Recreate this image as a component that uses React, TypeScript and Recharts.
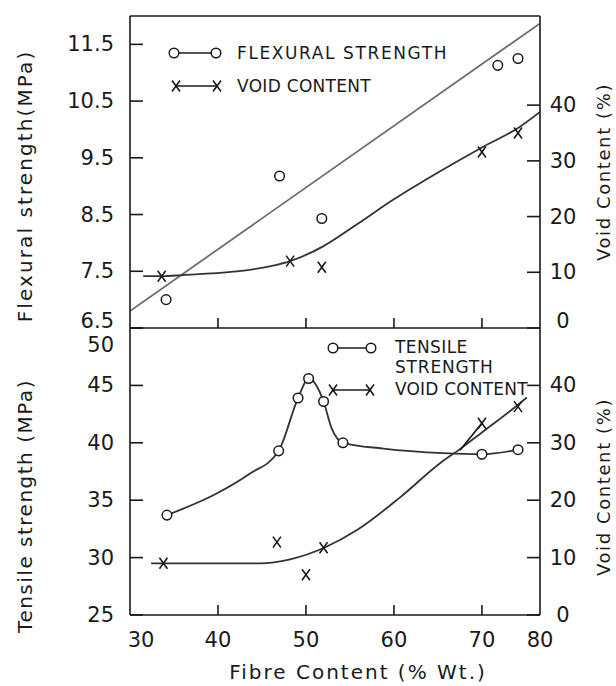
import React from 'react';
import { ComposedChart, XAxis, YAxis, Line, Scatter, Legend, ReferenceLine } from 'recharts';

const FONT = "'DejaVu Sans', sans-serif";
const INK = '#1a1a1a';
const CURVE = '#333333';
const FIT = '#6e6e6e';

// ---- shared x axis (fibre content, % wt.) ----
const fibreDomain = [30, 76.6];
const fibreTicks = [30, 40, 50, 60, 70, 76.6];
const fibreTickLabels = ['30', '40', '50', '60', '70', '80'];

// ---- top panel: flexural strength (MPa) and void content (%) ----
const flexTicks = [6.5, 7.5, 8.5, 9.5, 10.5, 11.5];
const voidTopTicks = [0, 10, 20, 30, 40];

const flexFibre = [34.1, 47.0, 51.8, 71.8, 74.1];
const flexStrength = [7.0, 9.18, 8.43, 11.13, 11.25];

const flexFitFibre = [30, 76.6];
const flexFitStrength = [6.8, 11.87];

const voidTopFibre = [33.6, 48.2, 51.8, 70.0, 74.1];
const voidTopValue = [9.3, 12.0, 10.9, 31.6, 35.0];

const voidTopCurveFibre = [31.5, 33.6, 36.0, 41.7, 46.0, 48.2, 51.9, 55.8, 59.9, 65.0, 70.1, 74.1, 76.6];
const voidTopCurveValue = [9.3, 9.3, 9.5, 10.1, 11.1, 12.0, 14.6, 18.6, 23.0, 27.9, 32.5, 35.9, 38.8];

// ---- bottom panel: tensile strength (MPa) and void content (%) ----
const tensileTicks = [25, 30, 35, 40, 45, 50];
const voidBottomTicks = [0, 10, 20, 30, 40];

const tensileFibre = [34.2, 46.9, 49.1, 50.3, 52.0, 54.2, 70.0, 74.1];
const tensileStrength = [33.7, 39.3, 43.9, 45.6, 43.6, 40.0, 39.0, 39.4];

const tensileCurveFibre = [34.2, 39.9, 43.6, 46.9, 49.1, 50.3, 52.0, 52.9, 54.2, 58.8, 65.6, 70.0, 74.1];
const tensileCurveStrength = [33.7, 35.6, 37.3, 39.3, 43.9, 45.6, 43.6, 41.3, 40.0, 39.5, 39.1, 39.0, 39.4];

const voidBottomFibre = [33.8, 46.7, 50.0, 52.0, 70.0, 74.1];
const voidBottomValue = [9.0, 12.7, 7.0, 11.7, 33.4, 36.3];

const voidBottomCurveFibre = [32.4, 33.8, 44.8, 48.2, 52.2, 55.8, 60.7, 65.2, 67.5, 70.0, 74.0, 75.1];
const voidBottomCurveValue = [9.0, 9.0, 9.0, 9.7, 11.8, 14.8, 20.5, 26.4, 28.9, 31.8, 36.5, 37.9];

const voidBranchFibre = [67.5, 70.0];
const voidBranchValue = [28.7, 33.4];

const pairs = (xs: number[], ys: number[]) => xs.map((x, i) => ({ x, y: ys[i] }));

const flexPoints = pairs(flexFibre, flexStrength);
const flexFit = pairs(flexFitFibre, flexFitStrength);
const voidTopPoints = pairs(voidTopFibre, voidTopValue);
const voidTopCurve = pairs(voidTopCurveFibre, voidTopCurveValue);
const tensilePoints = pairs(tensileFibre, tensileStrength);
const tensileCurve = pairs(tensileCurveFibre, tensileCurveStrength);
const voidBottomPoints = pairs(voidBottomFibre, voidBottomValue);
const voidBottomCurve = pairs(voidBottomCurveFibre, voidBottomCurveValue);
const voidBranch = pairs(voidBranchFibre, voidBranchValue);

const fibreLabel = (v: number) => {
  const i = fibreTicks.indexOf(v);
  return i >= 0 ? fibreTickLabels[i] : String(v);
};

const textStyle = { fontFamily: FONT, fill: INK } as const;

function XTick(props: any) {
  const { x, y, payload, showLabel } = props;
  const v = payload.value as number;
  const inner = v > 30 && v < 75;
  return (
    <g>
      {inner && <line x1={x} y1={y} x2={x} y2={y - 10} stroke={INK} strokeWidth={1.6} />}
      {showLabel && (
        <text x={x + (v === 30 ? 11 : 0)} y={y + 25} textAnchor="middle" dominantBaseline="central" fontSize={21} {...textStyle}>
          {fibreLabel(v)}
        </text>
      )}
    </g>
  );
}

function LeftTick(props: any) {
  const { x, y, payload, nudge } = props;
  const v = payload.value as number;
  const dy = (nudge && nudge[String(v)]) || 0;
  return (
    <g>
      <line x1={x} y1={y} x2={x + 13} y2={y} stroke={INK} strokeWidth={1.6} />
      <text x={x - 16} y={y + dy} textAnchor="end" dominantBaseline="central" fontSize={21} {...textStyle}>
        {String(v)}
      </text>
    </g>
  );
}

function RightTick(props: any) {
  const { x, y, payload, nudge } = props;
  const v = payload.value as number;
  const dy = (nudge && nudge[String(v)]) || 0;
  return (
    <g>
      <line x1={x} y1={y} x2={x - 13} y2={y} stroke={INK} strokeWidth={1.6} />
      <text x={x + 23} y={y + dy} textAnchor="middle" dominantBaseline="central" fontSize={21} {...textStyle}>
        {String(v)}
      </text>
    </g>
  );
}

const Circle = (p: any) => (
  <circle cx={p.cx} cy={p.cy} r={4.8} fill="#fff" stroke={INK} strokeWidth={1.5} />
);

const Cross = (p: any) => (
  <g stroke={INK} strokeWidth={1.6}>
    <line x1={p.cx - 4} y1={p.cy - 5.5} x2={p.cx + 4} y2={p.cy + 5.5} />
    <line x1={p.cx - 4} y1={p.cy + 5.5} x2={p.cx + 4} y2={p.cy - 5.5} />
  </g>
);

const vTitle = (text: string, dxFromLeft: number, dyFromTop: number, size: number, spacing: number) =>
  (p: any) => {
    const vb = p.viewBox || {};
    const cx = vb.x + dxFromLeft;
    const cy = vb.y + dyFromTop;
    return (
      <text
        x={cx}
        y={cy}
        transform={`rotate(-90 ${cx} ${cy})`}
        textAnchor="middle"
        dominantBaseline="central"
        fontSize={size}
        style={{ letterSpacing: spacing }}
        {...textStyle}
      >
        {text}
      </text>
    );
  };

const xTitle = (p: any) => {
  const vb = p.viewBox || {};
  return (
    <text
      x={vb.x + vb.width / 2 + 23}
      y={vb.y + 57}
      textAnchor="middle"
      dominantBaseline="central"
      fontSize={20}
      style={{ letterSpacing: 2 }}
      {...textStyle}
    >
      Fibre Content (% Wt.)
    </text>
  );
};

const legendText = (x: number, y: number, label: string, spacing: number) => (
  <text x={x} y={y} dominantBaseline="central" fontSize={17} style={{ letterSpacing: spacing }} {...textStyle}>
    {label}
  </text>
);

function TopLegend() {
  return (
    <svg width={330} height={60} style={{ overflow: 'visible' }}>
      <line x1={14} y1={13} x2={56} y2={13} stroke={INK} strokeWidth={1.6} />
      <Circle cx={14} cy={13} />
      <Circle cx={56} cy={13} />
      {legendText(77, 13, 'FLEXURAL STRENGTH', 1.6)}
      <line x1={16} y1={46} x2={57} y2={46} stroke={INK} strokeWidth={1.6} />
      <Cross cx={16} cy={46} />
      <Cross cx={57} cy={46} />
      {legendText(77, 46, 'VOID CONTENT', 0.3)}
    </svg>
  );
}

function BottomLegend() {
  return (
    <svg width={230} height={80} style={{ overflow: 'visible' }}>
      <line x1={13} y1={18} x2={51} y2={18} stroke={INK} strokeWidth={1.6} />
      <Circle cx={13} cy={18} />
      <Circle cx={51} cy={18} />
      {legendText(75, 17, 'TENSILE', 0.4)}
      {legendText(75, 37, 'STRENGTH', 0.8)}
      <line x1={13} y1={60} x2={50} y2={60} stroke={INK} strokeWidth={1.6} />
      <Cross cx={13} cy={60} />
      <Cross cx={50} cy={60} />
      {legendText(75, 59, 'VOID CONTENT', 0.2)}
    </svg>
  );
}

const axisLine = { stroke: INK, strokeWidth: 1.6 };

export default function App() {
  return (
    <div style={{ position: 'absolute', left: 0, top: 0, width: 616, height: 686, background: '#fff' }}>
      <div style={{ position: 'absolute', left: 0, top: 0 }}>
        <ComposedChart width={616} height={340} margin={{ top: 16, right: 0, bottom: 0, left: 0 }}>
          <XAxis
            dataKey="x"
            type="number"
            domain={fibreDomain}
            ticks={[40, 50, 60, 70]}
            interval={0}
            allowDataOverflow
            height={12}
            tickSize={0}
            tickMargin={0}
            tickLine={false}
            axisLine={axisLine}
            tick={<XTick showLabel={false} />}
          />
          <YAxis
            yAxisId="left"
            orientation="left"
            type="number"
            domain={[6.5, 12]}
            ticks={flexTicks}
            interval={0}
            allowDataOverflow
            width={130}
            tickSize={0}
            tickMargin={0}
            tickLine={false}
            axisLine={axisLine}
            tick={<LeftTick nudge={{ '6.5': -7 }} />}
            label={vTitle('Flexural strength(MPa)', 25, 170, 20, 2.1)}
          />
          <YAxis
            yAxisId="right"
            orientation="right"
            type="number"
            domain={[0, 56]}
            ticks={voidTopTicks}
            interval={0}
            allowDataOverflow
            width={76}
            tickSize={0}
            tickMargin={0}
            tickLine={false}
            axisLine={axisLine}
            tick={<RightTick nudge={{ '0': -7 }} />}
            label={vTitle('Void Content (%)', 63, 156, 18, 1.6)}
          />
          <ReferenceLine yAxisId="left" y={12} stroke={INK} strokeWidth={1.6} />
          <Line
            yAxisId="left"
            data={flexFit}
            dataKey="y"
            type="linear"
            stroke={FIT}
            strokeWidth={1.8}
            dot={false}
            activeDot={false}
            isAnimationActive={false}
          />
          <Line
            yAxisId="right"
            data={voidTopCurve}
            dataKey="y"
            type="monotone"
            stroke={CURVE}
            strokeWidth={1.8}
            dot={false}
            activeDot={false}
            isAnimationActive={false}
          />
          <Scatter yAxisId="left" data={flexPoints} dataKey="y" shape={Circle} isAnimationActive={false} />
          <Scatter yAxisId="right" data={voidTopPoints} dataKey="y" shape={Cross} isAnimationActive={false} />
          <Legend
            layout="vertical"
            align="center"
            verticalAlign="middle"
            wrapperStyle={{ top: 40, left: 160, width: 330, height: 60 }}
            content={() => <TopLegend />}
          />
        </ComposedChart>
      </div>
      <div style={{ position: 'absolute', left: 0, top: 316 }}>
        <ComposedChart width={616} height={370} margin={{ top: 12, right: 0, bottom: 0, left: 0 }}>
          <XAxis
            dataKey="x"
            type="number"
            domain={fibreDomain}
            ticks={fibreTicks}
            interval={0}
            allowDataOverflow
            height={71}
            tickSize={0}
            tickMargin={0}
            tickLine={false}
            axisLine={axisLine}
            tick={<XTick showLabel />}
            label={xTitle}
          />
          <YAxis
            yAxisId="left"
            orientation="left"
            type="number"
            domain={[25, 50]}
            ticks={tensileTicks}
            interval={0}
            allowDataOverflow
            width={130}
            tickSize={0}
            tickMargin={0}
            tickLine={false}
            axisLine={axisLine}
            tick={<LeftTick nudge={{ '50': 17 }} />}
            label={vTitle('Tensile strength (MPa)', 25, 178, 20, 1.5)}
          />
          <YAxis
            yAxisId="right"
            orientation="right"
            type="number"
            domain={[0, 50]}
            ticks={voidBottomTicks}
            interval={0}
            allowDataOverflow
            width={76}
            tickSize={0}
            tickMargin={0}
            tickLine={false}
            axisLine={axisLine}
            tick={<RightTick />}
            label={vTitle('Void Content (%)', 63, 159, 18, 1.6)}
          />
          <Line
            yAxisId="left"
            data={tensileCurve}
            dataKey="y"
            type="monotone"
            stroke={CURVE}
            strokeWidth={1.8}
            dot={false}
            activeDot={false}
            isAnimationActive={false}
          />
          <Line
            yAxisId="right"
            data={voidBottomCurve}
            dataKey="y"
            type="monotone"
            stroke={CURVE}
            strokeWidth={1.8}
            dot={false}
            activeDot={false}
            isAnimationActive={false}
          />
          <Line
            yAxisId="right"
            data={voidBranch}
            dataKey="y"
            type="linear"
            stroke={INK}
            strokeWidth={1.8}
            dot={false}
            activeDot={false}
            isAnimationActive={false}
          />
          <Scatter yAxisId="left" data={tensilePoints} dataKey="y" shape={Circle} isAnimationActive={false} />
          <Scatter yAxisId="right" data={voidBottomPoints} dataKey="y" shape={Cross} isAnimationActive={false} />
          <Legend
            layout="vertical"
            align="center"
            verticalAlign="middle"
            wrapperStyle={{ top: 14, left: 320, width: 230, height: 80 }}
            content={() => <BottomLegend />}
          />
        </ComposedChart>
      </div>
    </div>
  );
}
